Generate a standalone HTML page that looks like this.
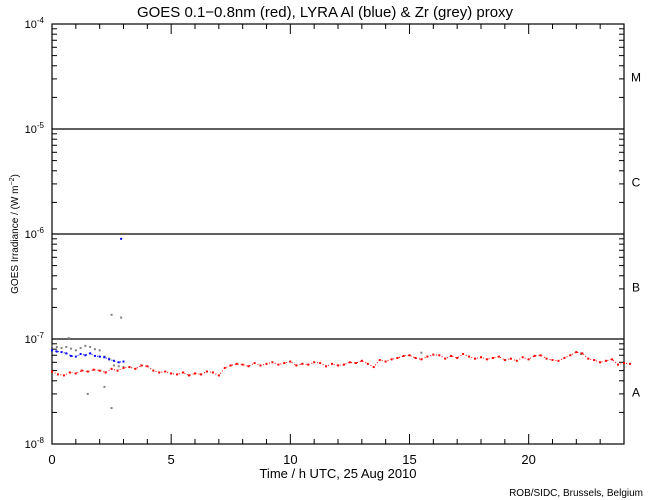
<!DOCTYPE html>
<html><head><meta charset="utf-8"><style>
body{margin:0;background:#fff}
svg{display:block;font-family:"Liberation Sans",sans-serif}
</style></head><body>
<svg id="chart" width="650" height="500" viewBox="0 0 650 500">
<rect width="650" height="500" fill="#fff"/>
<text x="325" y="17" text-anchor="middle" font-size="15" fill="#000">GOES 0.1−0.8nm (red), LYRA Al (blue) &amp; Zr (grey) proxy</text>
<g id="axes"></g>
<g id="marks"></g>
<text x="338" y="478" text-anchor="middle" font-size="13">Time / h UTC, 25 Aug 2010</text>
<text transform="translate(18,234) rotate(-90)" text-anchor="middle" font-size="10">GOES Irradiance / (W m<tspan dy="-4" font-size="7">−2</tspan><tspan dy="4">)</tspan></text>
<text x="643" y="496" text-anchor="end" font-size="10">ROB/SIDC, Brussels, Belgium</text>
</svg>
<script>
// data (irradiance in units of 1e-8 W m^-2)
const redStep = 0.25;
const redValues = [4.9,4.6,4.5,4.8,4.7,5.0,4.9,5.1,5.0,4.8,5.2,5.0,5.3,
5.4,5.2,5.6,5.5,5.0,4.8,4.9,4.7,4.6,4.8,4.5,4.7,
4.6,4.9,4.8,4.5,5.3,5.6,5.8,5.7,5.5,5.9,5.6,5.8,
6.0,5.7,5.9,6.1,5.6,5.8,5.7,6.0,5.9,5.5,5.8,5.6,
5.7,6.0,5.9,6.2,5.8,5.4,6.3,6.1,6.4,6.6,6.9,7.0,
6.6,6.4,6.8,7.1,7.0,6.5,6.9,6.6,7.2,6.8,6.5,6.7,
6.4,6.6,6.8,6.3,6.5,6.2,6.7,6.4,6.9,7.0,6.5,6.3,
6.2,6.6,7.0,7.5,7.3,6.5,6.3,6.0,6.2,6.4,5.7,5.9,5.8];
const blueTimes = [0,0.2,0.4,0.6,0.8,1.0,1.2,1.4,1.6,1.8,2.0,2.2,2.4,2.6,2.8,2.9,3.0];
const blueValues = [7.8,7.6,7.5,7.3,6.9,6.8,7.2,7.0,7.3,6.9,6.8,6.7,6.4,6.2,6.0,90,6.1];
const greyTimes = [0,0.2,0.4,0.6,0.7,0.8,1.0,1.2,1.4,1.6,1.8,2.0,2.2,2.4,2.5,2.6,2.8,2.9,3.0,1.5,2.2,2.5,15.5,22.2];
const greyValues = [8.6,8.4,8.2,8.4,10.2,8.1,7.8,8.2,8.6,8.4,8.0,7.8,6.8,6.5,17,5.6,5.5,16,5.4,3.0,3.5,2.2,7.4,7.2];
const classLabels = ["M","C","B","A"];
const xTicks = [0,5,10,15,20];
const yTickExps = [-8,-7,-6,-5,-4];

const X0=52,X1=624,Y0=24,Y1=444;
const xs = t => X0 + (X1-X0)*t/24;
const ys = v => Y1 - (Y1-Y0)*(Math.log10(v*1e-8)+8)/4;
const NS="http://www.w3.org/2000/svg";
function mk(tag,attrs,parent){const e=document.createElementNS(NS,tag);for(const k in attrs)e.setAttribute(k,attrs[k]);parent.appendChild(e);return e;}
const axes=document.getElementById('axes'), marks=document.getElementById('marks');
const frame=mk('rect',{x:X0,y:Y0,width:X1-X0,height:Y1-Y0,fill:'none',stroke:'#000','stroke-width':1.2},axes);


// x ticks
for(let h=0;h<=24;h++){
  const len = h%5===0?10:5;
  for(const [ya,d] of [[Y1,-1],[Y0,1]]){
    const l=mk('line',{x1:xs(h),x2:xs(h),y1:ya,y2:ya+d*len,stroke:'#000'},axes);
    
    
  }
}
xTicks.forEach(t=>{
  const tx=mk('text',{x:xs(t),y:464,'text-anchor':'middle','font-size':13},axes);
  tx.textContent=t;
  
  
});
// y ticks
for(let e=-8;e<-4;e++){
  for(let m=1;m<10;m++){
    const v=m*Math.pow(10,e+8);
    const y=ys(v);
    const len=m===1?10:5;
    for(const [xa,d] of [[X0,1],[X1,-1]]){
      const l=mk('line',{x1:xa,x2:xa+d*len,y1:y,y2:y,stroke:'#000'},axes);
      
      
    }
  }
}
yTickExps.forEach(e=>{
  const y=ys(Math.pow(10,e+8));
  const tx=mk('text',{x:44,y:y+4,'text-anchor':'end','font-size':11},axes);
  tx.innerHTML='10<tspan dy="-5" font-size="8">'+e+'</tspan>';
  
  
  if(e>-8&&e<-4){
    const g=mk('line',{x1:X0,x2:X1,y1:y,y2:y,stroke:'#000','stroke-width':1.2},axes);
    
    
  }
});
classLabels.forEach((c,i)=>{
  const y=ys(Math.pow(10,-4-i+8))+ (Y1-Y0)/8;
  const tx=mk('text',{x:636,y:y+5,'text-anchor':'middle','font-size':12},axes);
  tx.textContent=c;
  
  
});
// series
greyTimes.forEach((t,i)=>{
  const r=mk('rect',{x:xs(t)-1,y:ys(greyValues[i])-1,width:2,height:2,fill:'#808080'},marks);
  
  
});
blueTimes.forEach((t,i)=>{
  const r=mk('rect',{x:xs(t)-1,y:ys(blueValues[i])-1,width:2,height:2,fill:'#0000ff'},marks);
  
  
});
redValues.forEach((v,i)=>{
  const r=mk('rect',{x:xs(i*redStep)-1,y:ys(v)-1,width:2,height:2,fill:'#ff0000'},marks);
  
  
});
const pl=(arrT,arrV,col,name)=>{
  const p=mk('polyline',{points:arrT.map((t,i)=>xs(t)+','+ys(arrV[i])).join(' '),fill:'none',stroke:col,'stroke-width':1,'stroke-dasharray':'1 2'},marks);
  
  
};
pl(redValues.map((v,i)=>i*redStep),redValues,'#ff0000','red-series');
pl(blueTimes.filter((t,i)=>blueValues[i]<20),blueValues.filter(v=>v<20),'#0000ff','blue-series');
</script>
</body></html>
